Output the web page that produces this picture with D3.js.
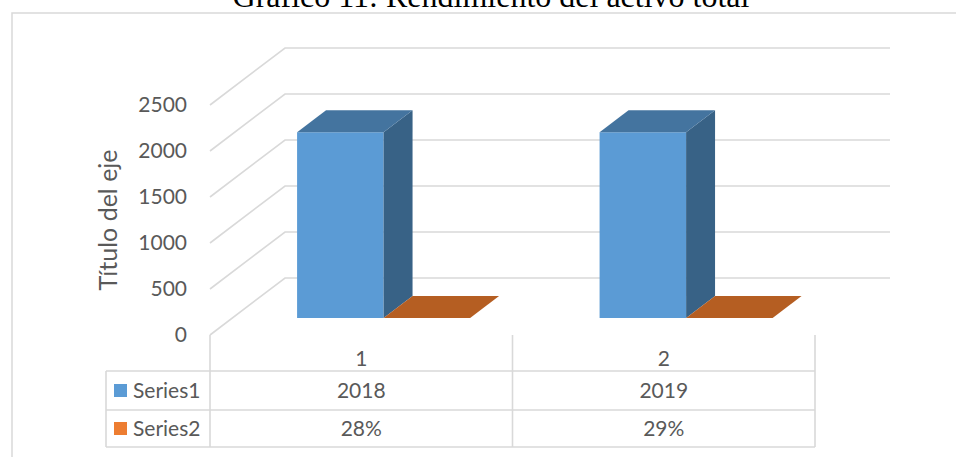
<!DOCTYPE html>
<html>
<head>
<meta charset="utf-8">
<script src="https://cdn.jsdelivr.net/npm/d3@7"></script>
<style>
  html, body { margin: 0; padding: 0; background: #fff; overflow: hidden; }
  svg { display: block; }
</style>
</head>
<body>
<svg id="chart" width="956" height="457"></svg>
<script>
// ---- data ----
const title = "Gráfico 11: Rendimiento del activo total";
const axisTitle = "Título del eje";
const categories = ["1", "2"];
const seriesNames = ["Series1", "Series2"];
const series1 = [2018, 2019];
const series2 = [0.28, 0.29];
const series1Labels = ["2018", "2019"];
const series2Labels = ["28%", "29%"];
const yTicks = [0, 500, 1000, 1500, 2000, 2500];

// ---- styles ----
const textColor = "#595959";
const gridColor = "#d9d9d9";
const font = "Lato, 'Open Sans', sans-serif";
const labelSize = 21;
const faceColors = [
  { front: "#5b9bd5", top: "#44749f", side: "#386286" },
  { front: "#ed7d31", top: "#b55e22", side: "#a3561f" }
];
const legendColors = ["#5b9bd5", "#ed7d31"];

const svg = d3.select("#chart");

// layout
const frontLeft = 210, frontRight = 815;
const depthDX = 75, depthDY = -57;
const zFront = 0.298, zBack = 0.684;

const y = d3.scaleLinear().domain([0, 2500]).range([335, 105]);
const x0 = d3.scaleBand().domain(categories).range([frontLeft, frontRight]);
const groupW = x0.bandwidth() * 0.572;
const x1 = d3.scaleBand().domain(seriesNames).range([0, groupW]);

const proj = (px, py, z) => [px + depthDX * z, py + depthDY * z];

// chart border
svg.append("rect")
  .attr("x", 12).attr("y", 13)
  .attr("width", 1000).attr("height", 500)
  .attr("fill", "none").attr("stroke", gridColor).attr("stroke-width", 1.5);

// title
svg.append("text")
  .attr("x", 491).attr("y", 7)
  .attr("text-anchor", "middle")
  .attr("font-family", "'Liberation Serif', 'Times New Roman', serif")
  .attr("font-size", 32)
  .attr("fill", "#000")
  .text(title);

// gridlines (left wall diagonal + back wall horizontal)
const grid = svg.append("g");
yTicks.forEach(t => {
  const a = [frontLeft, y(t)];
  const b = proj(frontLeft, y(t), 1);
  const c = [frontRight + depthDX, b[1]];
  grid.append("path")
    .attr("d", d3.line()([a, b, c]))
    .attr("fill", "none").attr("stroke", gridColor).attr("stroke-width", 1.6);
});

// y tick labels
svg.append("g").selectAll("text").data(yTicks).join("text")
  .attr("x", 187).attr("y", d => y(d))
  .attr("dy", "0.35em")
  .attr("text-anchor", "end")
  .attr("font-family", font).attr("font-size", labelSize)
  .attr("fill", textColor)
  .text(d => d);

// axis title
svg.append("text")
  .attr("transform", "translate(117,220) rotate(-90)")
  .attr("text-anchor", "middle")
  .attr("font-family", font).attr("font-size", 25)
  .attr("fill", textColor)
  .text(axisTitle);

// bars
const allSeries = [series1, series2];
const bars = svg.append("g");
categories.forEach((cat, ci) => {
  allSeries.forEach((vals, si) => {
    const xl = x0(cat) + (x0.bandwidth() - groupW) / 2 + x1(seriesNames[si]);
    const xr = xl + x1.bandwidth();
    const yb = y(0), yt = y(vals[ci]);
    const fbl = proj(xl, yb, zFront), fbr = proj(xr, yb, zFront);
    const ftl = proj(xl, yt, zFront), ftr = proj(xr, yt, zFront);
    const bbr = proj(xr, yb, zBack);
    const btl = proj(xl, yt, zBack), btr = proj(xr, yt, zBack);
    const col = faceColors[si];
    const poly = pts => "M" + pts.map(p => p.join(",")).join("L") + "Z";
    bars.append("path").attr("d", poly([fbl, fbr, ftr, ftl])).attr("fill", col.front);
    bars.append("path").attr("d", poly([fbr, bbr, btr, ftr])).attr("fill", col.side);
    bars.append("path").attr("d", poly([ftl, ftr, btr, btl])).attr("fill", col.top);
  });
});

// data table
const tbl = svg.append("g");
const rowTop = 335, row1 = 371, row2 = 410, rowBottom = 447;
const tableLeft = 106;
const lineAttrs = sel => sel.attr("stroke", gridColor).attr("stroke-width", 1.6);
[row1, row2, rowBottom].forEach(ry => {
  tbl.append("line").attr("x1", tableLeft).attr("x2", frontRight)
    .attr("y1", ry).attr("y2", ry).call(lineAttrs);
});
tbl.append("line").attr("x1", tableLeft).attr("x2", tableLeft)
  .attr("y1", row1).attr("y2", rowBottom).call(lineAttrs);
const colEdges = [frontLeft].concat(categories.map(c => x0(c) + x0.bandwidth()));
colEdges.forEach(cx => {
  tbl.append("line").attr("x1", cx).attr("x2", cx)
    .attr("y1", rowTop).attr("y2", rowBottom).call(lineAttrs);
});

// category header labels
tbl.selectAll("text.cat").data(categories).join("text")
  .attr("class", "cat")
  .attr("x", d => x0(d) + x0.bandwidth() / 2)
  .attr("y", (rowTop + row1) / 2 + 6)
  .attr("dy", "0.35em")
  .attr("text-anchor", "middle")
  .attr("font-family", font).attr("font-size", labelSize)
  .attr("fill", textColor)
  .text(d => d);

const rowsY = [(row1 + row2) / 2, (row2 + rowBottom) / 2];
const rowLabels = [series1Labels, series2Labels];
seriesNames.forEach((s, si) => {
  tbl.append("rect")
    .attr("x", 114).attr("y", rowsY[si] - 6.5)
    .attr("width", 13).attr("height", 13)
    .attr("fill", legendColors[si]);
  tbl.append("text")
    .attr("x", 133).attr("y", rowsY[si])
    .attr("dy", "0.35em")
    .attr("font-family", font).attr("font-size", labelSize)
    .attr("fill", textColor)
    .text(s);
  tbl.selectAll("text.v" + si).data(categories).join("text")
    .attr("class", "v" + si)
    .attr("x", d => x0(d) + x0.bandwidth() / 2)
    .attr("y", rowsY[si])
    .attr("dy", "0.35em")
    .attr("text-anchor", "middle")
    .attr("font-family", font).attr("font-size", labelSize)
    .attr("fill", textColor)
    .text((d, i) => rowLabels[si][i]);
});
</script>
</body>
</html>
